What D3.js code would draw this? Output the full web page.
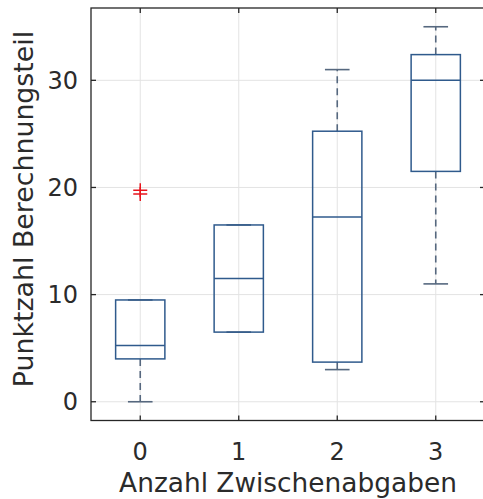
<!DOCTYPE html>
<html>
<head>
<meta charset="utf-8">
<script src="https://cdn.jsdelivr.net/npm/d3@7"></script>
<style>
  html, body { margin: 0; padding: 0; background: #ffffff; overflow: hidden; }
  svg { display: block; }
  text { font-family: "DejaVu Sans", Verdana, sans-serif; fill: #2b2b2b; }
</style>
</head>
<body>
<svg id="chart" width="483" height="499"></svg>
<script>
// ---- data ----
const groups        = [0, 1, 2, 3];
const q1            = [4.0, 6.5, 3.7, 21.5];
const medians       = [5.25, 11.5, 17.25, 30.0];
const q3            = [9.5, 16.5, 25.25, 32.4];
const lowerWhisker  = [0.0, 6.5, 3.0, 11.0];
const upperWhisker  = [9.5, 16.5, 31.0, 35.0];
const outlierGroup  = [0, 0];
const outlierValue  = [19.75, 19.4];
const yTicks        = [0, 10, 20, 30];
const xLabel = "Anzahl Zwischenabgaben";
const yLabel = "Punktzahl Berechnungsteil";

// ---- layout ----
const pL = 91, pR = 485, pT = 8, pB = 420.5;
const svg = d3.select("#chart");

const x = d3.scaleLinear().domain([-0.5, 3.5]).range([pL, pR]);
const y = d3.scaleLinear().domain([-1.75, 36.75]).range([pB, pT]);

const boxW = x(0.25) - x(0);    // half width of box (0.5 units total)
const capW = x(0.125) - x(0);   // half width of whisker cap

// grid
const grid = svg.append("g");
grid.selectAll("line.gx").data(groups).enter().append("line")
  .attr("x1", d => x(d)).attr("x2", d => x(d))
  .attr("y1", pT).attr("y2", pB)
  .attr("stroke", "#e3e3e3").attr("stroke-width", 1);
grid.selectAll("line.gy").data(yTicks).enter().append("line")
  .attr("x1", pL).attr("x2", pR)
  .attr("y1", d => y(d)).attr("y2", d => y(d))
  .attr("stroke", "#e3e3e3").attr("stroke-width", 1);

// boxes
const boxColor = "#2f5a8c";
const whiskColor = "#56687f";
const g = svg.append("g");
groups.forEach((grp, i) => {
  const cx = x(grp);
  if (upperWhisker[i] > q3[i]) {
    g.append("line").attr("x1", cx).attr("x2", cx)
      .attr("y1", y(q3[i])).attr("y2", y(upperWhisker[i]))
      .attr("stroke", whiskColor).attr("stroke-width", 1.6)
      .attr("stroke-dasharray", "7,5");
  }
  if (lowerWhisker[i] < q1[i]) {
    g.append("line").attr("x1", cx).attr("x2", cx)
      .attr("y1", y(q1[i])).attr("y2", y(lowerWhisker[i]))
      .attr("stroke", whiskColor).attr("stroke-width", 1.6)
      .attr("stroke-dasharray", "7,5");
  }
  [upperWhisker[i], lowerWhisker[i]].forEach(v => {
    g.append("line").attr("x1", cx - capW).attr("x2", cx + capW)
      .attr("y1", y(v)).attr("y2", y(v))
      .attr("stroke", whiskColor).attr("stroke-width", 1.6);
  });
  g.append("rect")
    .attr("x", cx - boxW).attr("width", 2 * boxW)
    .attr("y", y(q3[i])).attr("height", y(q1[i]) - y(q3[i]))
    .attr("fill", "none").attr("stroke", boxColor).attr("stroke-width", 1.5);
  g.append("line").attr("x1", cx - boxW).attr("x2", cx + boxW)
    .attr("y1", y(medians[i])).attr("y2", y(medians[i]))
    .attr("stroke", boxColor).attr("stroke-width", 1.5);
});

// outliers (+ markers)
const ms = 7;
outlierValue.forEach((v, i) => {
  const cx = x(outlierGroup[i]), cy = y(v);
  g.append("path")
    .attr("d", `M${cx - ms},${cy}H${cx + ms}M${cx},${cy - ms}V${cy + ms}`)
    .attr("stroke", "#e8141c").attr("stroke-width", 1.5).attr("fill", "none");
});

// frame
svg.append("rect").attr("x", pL).attr("y", pT)
  .attr("width", pR - pL).attr("height", pB - pT)
  .attr("fill", "none").attr("stroke", "#262626").attr("stroke-width", 1.3);

// ticks (inward, all sides)
const tl = 5;
const ticks = svg.append("g").attr("stroke", "#262626").attr("stroke-width", 1.3);
groups.forEach(d => {
  ticks.append("line").attr("x1", x(d)).attr("x2", x(d)).attr("y1", pB).attr("y2", pB - tl);
  ticks.append("line").attr("x1", x(d)).attr("x2", x(d)).attr("y1", pT).attr("y2", pT + tl);
});
yTicks.forEach(d => {
  ticks.append("line").attr("x1", pL).attr("x2", pL + tl).attr("y1", y(d)).attr("y2", y(d));
  ticks.append("line").attr("x1", pR).attr("x2", pR - tl).attr("y1", y(d)).attr("y2", y(d));
});

// tick labels
svg.selectAll("text.xt").data(groups).enter().append("text")
  .attr("x", d => x(d)).attr("y", 460)
  .attr("text-anchor", "middle").attr("font-size", 24)
  .text(d => d);
svg.selectAll("text.yt").data(yTicks).enter().append("text")
  .attr("x", 78).attr("y", d => y(d)).attr("dy", "0.36em")
  .attr("text-anchor", "end").attr("font-size", 24)
  .text(d => d);

// axis labels
svg.append("text").attr("x", (pL + pR) / 2).attr("y", 492)
  .attr("text-anchor", "middle").attr("font-size", 26.4)
  .text(xLabel);
svg.append("text")
  .attr("transform", `translate(33,209) rotate(-90)`)
  .attr("text-anchor", "middle").attr("font-size", 26.8)
  .text(yLabel);
</script>
</body>
</html>
